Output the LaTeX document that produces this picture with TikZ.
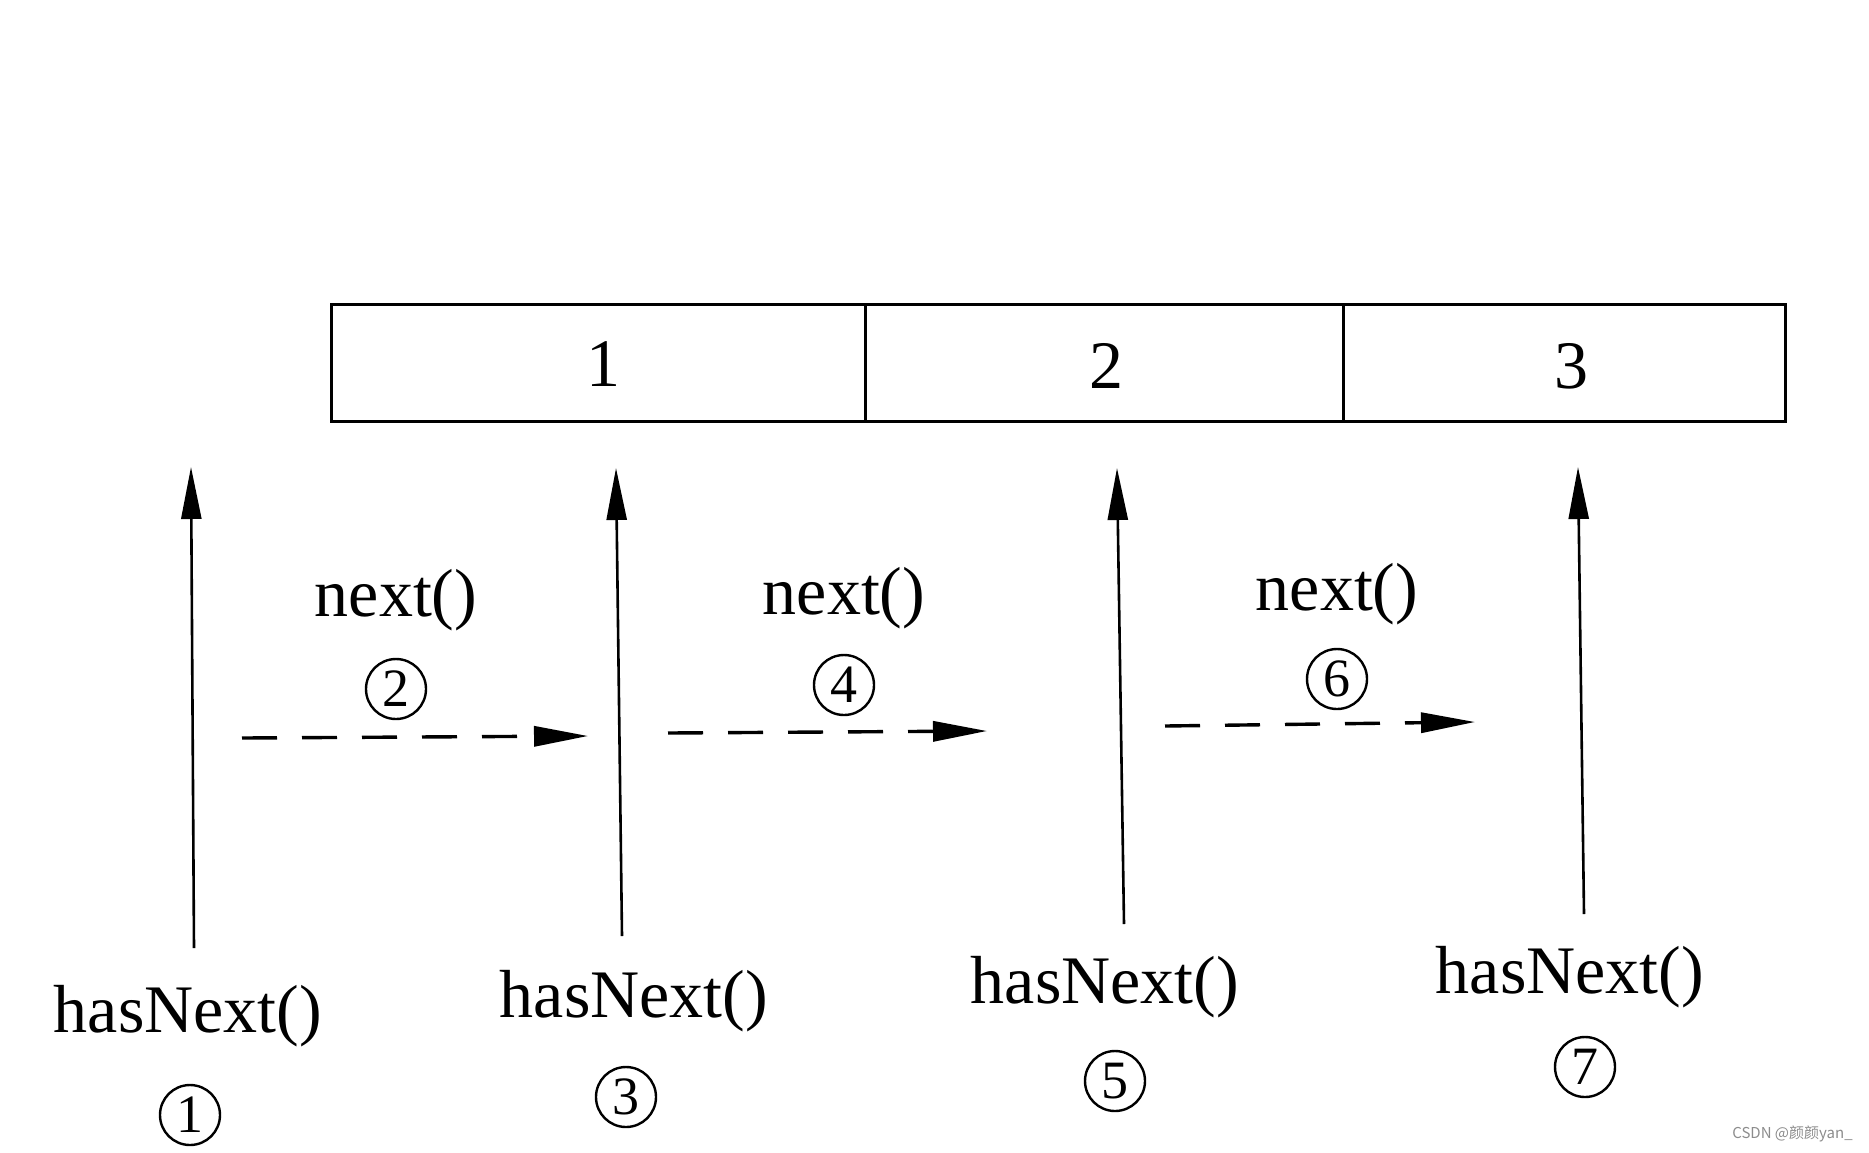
\documentclass[tikz,border=0pt]{standalone}
\usepackage{fontspec}
\setmainfont{Liberation Serif}
\newfontfamily\cjkfont{Noto Sans CJK SC}
\usetikzlibrary{arrows.meta}
\begin{document}
\begin{tikzpicture}[x=0.5pt,y=-0.5pt,
  lbl/.style={font=\fontsize{34}{34}\selectfont, inner sep=0pt},
  cnum/.style={draw, circle, line width=1.2pt, minimum size=30pt, inner sep=0pt, font=\fontsize{27}{27}\selectfont},
  cellbox/.style={draw, line width=1.6pt, minimum height=58.5pt, inner sep=0pt, anchor=north west},
  uparrow/.style={line width=1.3pt, -{Triangle[length=26pt,width=10pt]}},
  nextarrow/.style={line width=1.7pt, dash pattern=on 17.5pt off 12.5pt, -{Triangle[length=27pt,width=10pt]}}
]
\useasboundingbox (0,0) rectangle (1869,1152);
% array cells
\node[cellbox, minimum width=267pt] (c1) at (330,303) {};
\node[cellbox, minimum width=239pt] (c2) at (864,303) {};
\node[cellbox, minimum width=221pt] (c3) at (1342,303) {};
\node[lbl] (n1) at (603,364) {1};
\node[lbl] (n2) at (1106,366) {2};
\node[lbl] (n3) at (1571,366) {3};
% vertical arrows
\coordinate (b1) at (194,948); \coordinate (t1) at (191,467);
\coordinate (b2) at (622,936); \coordinate (t2) at (616,468);
\coordinate (b3) at (1124,924); \coordinate (t3) at (1117,468);
\coordinate (b4) at (1584,914); \coordinate (t4) at (1578,467);
\draw[uparrow] (b1) -- (t1);
\draw[uparrow] (b2) -- (t2);
\draw[uparrow] (b3) -- (t3);
\draw[uparrow] (b4) -- (t4);
% dashed next arrows
\coordinate (s1) at (242,738); \coordinate (e1) at (588,736);
\coordinate (s2) at (668,733); \coordinate (e2) at (987,731);
\coordinate (s3) at (1165,726); \coordinate (e3) at (1475,722);
\draw[nextarrow] (s1) -- (e1);
\draw[nextarrow] (s2) -- (e2);
\draw[nextarrow] (s3) -- (e3);
% next() labels
\node[lbl] (x1) at (396,600) {next()};
\node[lbl] (x2) at (844,598) {next()};
\node[lbl] (x3) at (1337,594) {next()};
\node[cnum] (k2) at (396,689) {2};
\node[cnum] (k4) at (844,685) {4};
\node[cnum] (k6) at (1337,679) {6};
% hasNext() labels
\node[lbl] (h1) at (188,1016) {hasNext()};
\node[lbl] (h2) at (634,1001) {hasNext()};
\node[lbl] (h3) at (1105,987) {hasNext()};
\node[lbl] (h4) at (1570,977) {hasNext()};
\node[cnum] (k1) at (190,1115) {1};
\node[cnum] (k3) at (626,1097) {3};
\node[cnum] (k5) at (1115,1081) {5};
\node[cnum] (k7) at (1585,1067) {7};
% watermark
\node[font=\cjkfont\fontsize{7.5}{7.5}\selectfont, text=black!45, inner sep=0pt, anchor=east] (wm) at (1853,1134) {CSDN @颜颜yan\_};
\end{tikzpicture}
\end{document}
